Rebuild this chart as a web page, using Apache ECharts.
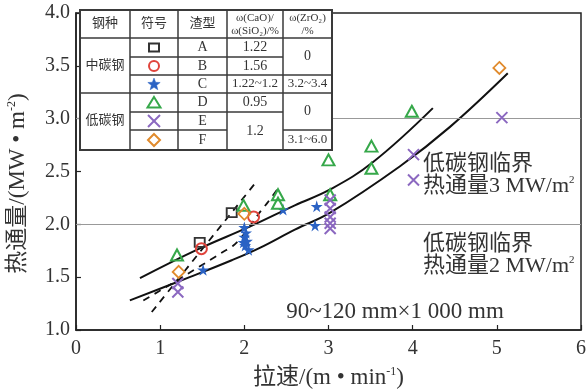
<!DOCTYPE html>
<html><head><meta charset="utf-8">
<script src="https://cdn.jsdelivr.net/npm/echarts@6/dist/echarts.min.js"></script>
<style>html,body{margin:0;padding:0;background:#fff}#c{width:587px;height:390px}</style>
</head><body><div id="c"></div>
<script>
// ---- data ----
const xTicks = [0,1,2,3,4,5,6];
const yTicks = [1.0,1.5,2.0,2.5,3.0,3.5,4.0];
const slagA = [[1.47,1.83],[1.85,2.11]];
const slagB = [[1.49,1.77],[2.11,2.07]];
const slagC = [[1.51,1.57],[2.00,1.97],[2.02,1.92],[2.00,1.88],[1.99,1.83],[2.03,1.84],[2.01,1.80],[2.05,1.76],[2.46,2.14],[2.86,2.17],[2.84,1.99]];
const slagD = [[1.20,1.71],[1.99,2.18],[2.40,2.28],[2.40,2.20],[3.00,2.61],[3.02,2.28],[3.51,2.74],[3.51,2.53],[3.99,3.07]];
const slagE = [[1.21,1.44],[1.21,1.36],[3.02,2.23],[3.02,2.15],[3.02,2.07],[3.02,2.01],[3.02,1.96],[4.01,2.66],[4.01,2.42],[5.06,3.01]];
const slagF = [[1.22,1.55],[2.00,2.10],[5.03,3.48]];
const fitUpper = [[0.76,1.49],[1.44,1.76],[2.07,1.98],[2.60,2.18],[3.02,2.33],[3.53,2.59],[4.24,3.10]];
const fitLower = [[0.64,1.28],[1.35,1.50],[1.85,1.66],[2.19,1.78],[2.60,1.95],[3.02,2.11],[3.85,2.55],[4.44,2.92],[5.13,3.43]];
const dashA = [[0.90,1.17],[2.14,2.40]];
const dashB = [[0.80,1.28],[1.12,1.43],[1.75,1.74],[1.87,1.80],[1.99,1.90],[2.17,2.10],[2.28,2.21],[2.42,2.36]];
const criticalFlux = [2.0, 3.0];
const tableHeader = ['钢种','符号','渣型'];
const steelGrades = ['中碳钢','低碳钢'];
const slagTypes = ['A','B','C','D','E','F'];
const basicity = ['1.22','1.56','1.22~1.2','0.95','1.2'];
const zro2 = ['0','3.2~3.4','0','3.1~6.0'];

const SERIF = '"Liberation Serif","Times New Roman","Noto Sans CJK SC",serif';
const TXT = '#333';
const cA='#333333', cB='#e0443c', cC='#2a62c4', cD='#36a84a', cE='#8b68c0', cF='#e08a2c';

const chart = echarts.init(document.getElementById('c'), null, {renderer:'canvas'});

function scatter(name, data, symbol, size, color, filled, bw){
  return {name, type:'scatter', data, symbol, symbolSize:size, z:5,
    itemStyle:{color: filled?color:'rgba(255,255,255,0)', borderColor:color, borderWidth: filled?0:bw, opacity:1}};
}
function fitLine(data, dashed){
  return {type:'line', data, smooth: dashed?0.3:0.4, symbol:'none', z:4, silent:true,
    lineStyle:{color:'#111', width: dashed?1.8:2, type: dashed?[7,6]:'solid'}};
}
const STAR='path://M50,0L61,35L98,35L68,57L79,91L50,70L21,91L32,57L2,35L39,35Z';
const XS='path://M0,0L10,10M10,0L0,10';

// table layout
const g=[];
g.push({type:'rect', shape:{x:80,y:10,width:252,height:140}, style:{fill:'#fff',stroke:'#3a3a3a',lineWidth:2}, z:100});
function L(x1,y1,x2,y2){g.push({type:'line', shape:{x1,y1,x2,y2}, style:{stroke:'#3a3a3a',lineWidth:1.5}, z:101});}
L(80,38,332,38); L(130,57,283,57); L(130,75,332,75); L(80,93,332,93); L(130,112,283,112); L(130,130,227,130); L(283,130,332,130);
[130,178,227,283].forEach(x=>L(x,10,x,150));
function T(text,x,y,size,opt){g.push({type:'text', z:102, style:Object.assign({text,x,y,align:'center',verticalAlign:'middle',font:size+'px '+SERIF,fill:TXT},opt||{})});}
T(tableHeader[0],105,24,13); T(tableHeader[1],154,24,13); T(tableHeader[2],202.5,24,13);
T('ω(CaO)/',255,18,11); T('ω(SiO₂)/%',255,31,11);
T('ω(ZrO₂)',307.5,18,11); T('/%',307.5,31,11);
T(steelGrades[0],105,66,13); T(steelGrades[1],105,121,13);
const rowC=[47.5,66,84,102.5,121,140];
slagTypes.forEach((s,i)=>T(s,202.5,rowC[i],14));
T(basicity[0],255,47.5,14); T(basicity[1],255,66,14); T(basicity[2],255,84,13); T(basicity[3],255,102.5,14); T(basicity[4],255,131,14);
T(zro2[0],307.5,56.5,14); T(zro2[1],307.5,84,13); T(zro2[2],307.5,111.5,14); T(zro2[3],307.5,140,13);
// legend symbols
const sx=154;
g.push({type:'rect', z:102, shape:{x:sx-5,y:43.5,width:10,height:8}, style:{fill:'#fff',stroke:cA,lineWidth:2}});
g.push({type:'circle', z:102, shape:{cx:sx,cy:66,r:5}, style:{fill:'#fff',stroke:cB,lineWidth:2}});
const starPts=[];
for(let k=0;k<10;k++){const r=k%2?2.8:6.5, a=-Math.PI/2+k*Math.PI/5; starPts.push([sx+r*Math.cos(a),84.5+r*Math.sin(a)]);}
g.push({type:'polygon', z:102, shape:{points:starPts}, style:{fill:cC,stroke:cC,lineWidth:0.5}});
g.push({type:'polygon', z:102, shape:{points:[[sx,97],[sx+6.5,107.5],[sx-6.5,107.5]]}, style:{fill:'#fff',stroke:cD,lineWidth:2}});
g.push({type:'line', z:102, shape:{x1:sx-6,y1:115,x2:sx+6,y2:127}, style:{stroke:cE,lineWidth:2}});
g.push({type:'line', z:102, shape:{x1:sx+6,y1:115,x2:sx-6,y2:127}, style:{stroke:cE,lineWidth:2}});
g.push({type:'polygon', z:102, shape:{points:[[sx,134],[sx+6,140],[sx,146],[sx-6,140]]}, style:{fill:'#fff',stroke:cF,lineWidth:2}});
// annotations
function A(text,x,y,size){g.push({type:'text', z:50, style:{text,x,y,align:'left',verticalAlign:'middle',font:size+'px '+SERIF,fill:TXT,
  rich:{n:{font:size+'px '+SERIF,fill:TXT},s:{font:'11px '+SERIF,fill:TXT,verticalAlign:'top',padding:[0,0,10,0]}}}});}
A('低碳钢临界',423,164,22); A('{n|热通量3 MW/m}{s|2}',423,186,22);
A('低碳钢临界',423,244,22); A('{n|热通量2 MW/m}{s|2}',423,266,22);
g.push({type:'text', z:50, style:{text:'90~120 mm×1 000 mm', x:395, y:312, align:'center', verticalAlign:'middle', font:'23px '+SERIF, fill:TXT}});

const lower = scatter('E', slagE, XS, 11, cE, false, 2);
lower.markLine = {silent:true, symbol:'none', label:{show:false}, lineStyle:{color:'#999',width:1.2,type:'solid'},
  data: criticalFlux.map(v=>({yAxis:v}))};

chart.setOption({
  animation:false,
  grid:{left:76,right:6,top:13,bottom:60,containLabel:false,outerBoundsMode:'none',show:true,borderColor:'#222',borderWidth:1.5,backgroundColor:'#fff'},
  xAxis:{type:'value',min:xTicks[0],max:xTicks[xTicks.length-1],interval:1,
    axisLine:{lineStyle:{color:'#222',width:1.5}}, axisTick:{inside:true,length:5,lineStyle:{color:'#222',width:1.2}},
    splitLine:{show:false}, axisLabel:{color:TXT,fontSize:20,fontFamily:SERIF,margin:9,showMaxLabel:true},
    name:'{n|拉速/(m • min}{s|-1}{n|)}', nameLocation:'middle', nameGap:36,
    nameTextStyle:{rich:{n:{fontSize:23,fontFamily:SERIF,color:TXT},s:{fontSize:12,fontFamily:SERIF,color:TXT,verticalAlign:'top',padding:[0,0,11,0]}}}},
  yAxis:{type:'value',min:yTicks[0],max:yTicks[yTicks.length-1],interval:0.5,
    axisLine:{lineStyle:{color:'#222',width:1.5}}, axisTick:{inside:true,length:5,lineStyle:{color:'#222',width:1.2}},
    splitLine:{show:false}, axisLabel:{color:TXT,fontSize:20,fontFamily:SERIF,margin:6,formatter:v=>v.toFixed(1)},
    name:'{n|热通量/(MW • m}{s|-2}{n|)}', nameLocation:'middle', nameGap:47, nameRotate:90,
    nameTextStyle:{padding:[0,24,0,0],rich:{n:{fontSize:23,fontFamily:SERIF,color:TXT},s:{fontSize:12,fontFamily:SERIF,color:TXT,verticalAlign:'top',padding:[0,0,11,0]}}}},
  series:[
    fitLine(fitUpper,false), fitLine(fitLower,false), fitLine(dashA,true), fitLine(dashB,true),
    scatter('A', slagA, 'rect', [10,9], cA, false, 1.8),
    scatter('B', slagB, 'circle', 11, cB, false, 2),
    scatter('C', slagC, STAR, 12, cC, true, 0),
    scatter('D', slagD, 'triangle', [12,11], cD, false, 2),
    lower,
    scatter('F', slagF, 'diamond', [12,12], cF, false, 1.8)
  ],
  graphic:g
});
</script></body></html>
